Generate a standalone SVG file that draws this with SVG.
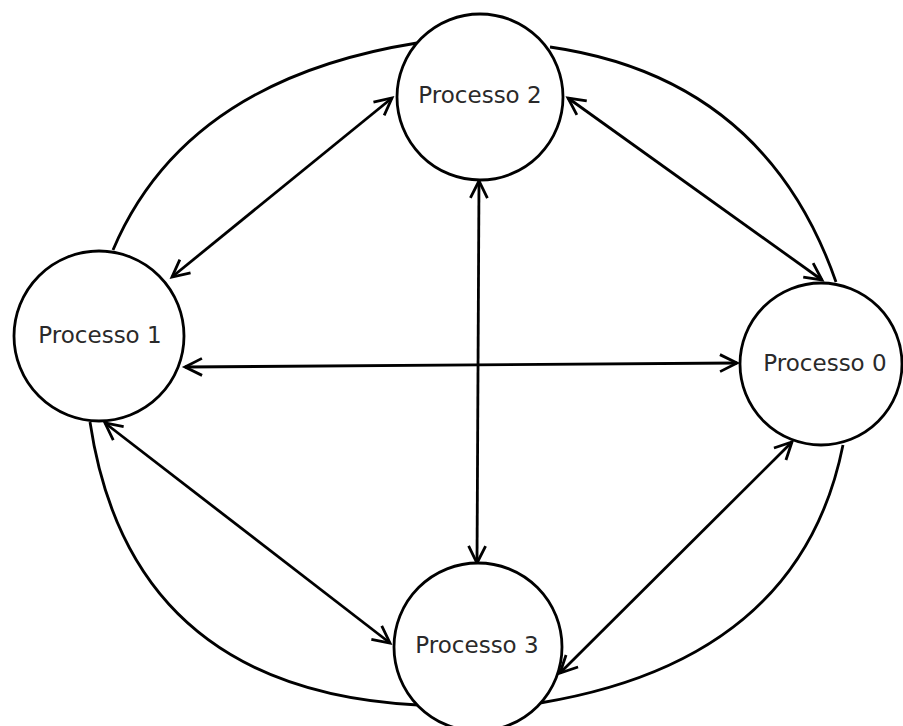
<svg xmlns="http://www.w3.org/2000/svg" width="903" height="726" viewBox="0 0 903 726">
<defs>
<style>
.node{fill:#fff;stroke:#000;stroke-width:2.8}
.lbl{font-family:"DejaVu Sans",sans-serif;font-size:23px;fill:#2a2a2a;text-anchor:middle}
.arc{fill:none;stroke:#000;stroke-width:2.8}
.edge{fill:none;stroke:#000;stroke-width:2.8;marker-start:url(#ah);marker-end:url(#ah)}
</style>
<marker id="ah" markerUnits="userSpaceOnUse" markerWidth="24" markerHeight="24" viewBox="-20 -12 24 24" refX="0" refY="0" orient="auto-start-reverse">
<path d="M-17,-8.5 L0,0 L-17,8.5" fill="none" stroke="#000" stroke-width="2.8"/>
</marker>
</defs>
<rect width="903" height="726" fill="#fff"/>
<g id="connectors">
<path class="arc" d="M113,250 Q185,80 417,43"/>
<path class="arc" d="M550,47 Q765,78 836,282"/>
<path class="arc" d="M90,422 Q130,690 418,705"/>
<path class="arc" d="M843,445 Q800,660 540,703"/>
<path class="edge" d="M172,277 L392,98"/>
<path class="edge" d="M568,98 L822,280"/>
<path class="edge" d="M479,181 L477,563"/>
<path class="edge" d="M185,367 L737,363"/>
<path class="edge" d="M105,423 L390,643"/>
<path class="edge" d="M792,442 L560,673"/>
</g>
<g id="p1"><circle class="node" cx="99" cy="336" r="85"/><text class="lbl" x="100" y="343">Processo 1</text></g>
<g id="p2"><circle class="node" cx="480" cy="97" r="83"/><text class="lbl" x="480" y="103">Processo 2</text></g>
<g id="p0"><circle class="node" cx="821" cy="364" r="81"/><text class="lbl" x="825" y="371">Processo 0</text></g>
<g id="p3"><circle class="node" cx="478" cy="647" r="84"/><text class="lbl" x="477" y="653">Processo 3</text></g>
</svg>
